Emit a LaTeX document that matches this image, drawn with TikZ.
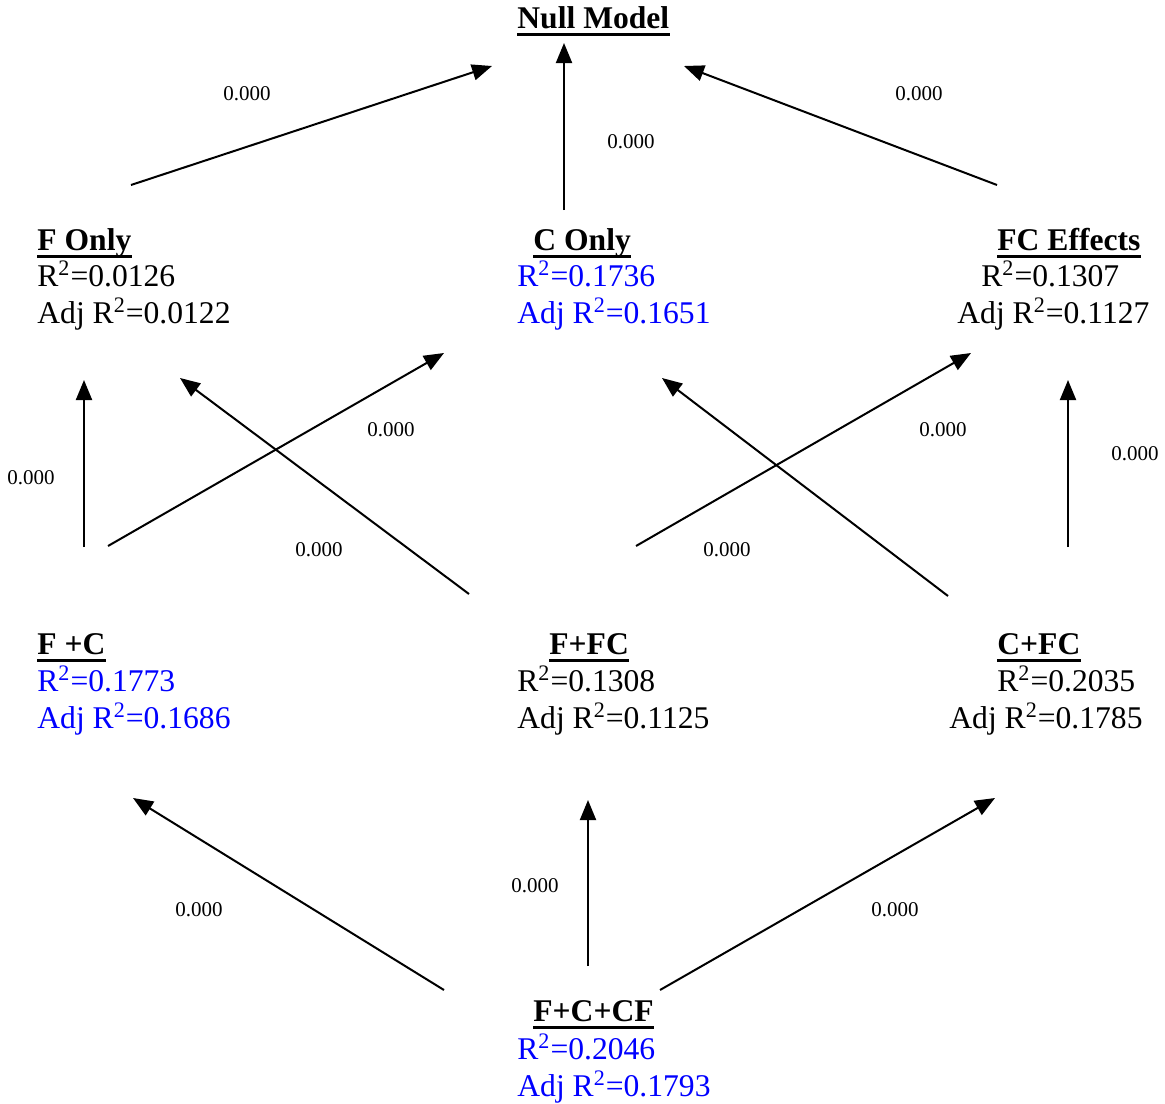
\documentclass[tikz,border=0pt]{standalone}
\usepackage{fontspec}
\setmainfont{Liberation Serif}
\usetikzlibrary{arrows.meta}
\newcommand{\rsq}[1]{R\textsuperscript{2}=#1}
\newcommand{\adjrsq}[1]{Adj R\textsuperscript{2}=#1}

\begin{document}
\begin{tikzpicture}[
    x=0.5pt, y=-0.5pt,
    txt/.style={anchor=base west, inner sep=0pt, font=\fontsize{15.8}{19}\selectfont},
    ttl/.style={txt, font=\fontsize{15.8}{19}\selectfont\bfseries},
    best/.style={text=blue},
    pval/.style={inner sep=0pt, font=\fontsize{10.5}{12}\selectfont},
    uline/.style={line width=1.7pt},
    arr/.style={line width=1pt, -{Triangle[length=10pt, width=8pt]}}]
  \useasboundingbox (0,0) rectangle (1165,1103);

  % top
  \node[ttl] (null) at (517,28) {Null Model};

  % one term
  \node[ttl] (fonly) at (37,250) {F Only};
  \node[txt] (fonly-r2) at (37,286) {\rsq{0.0126}};
  \node[txt] (fonly-adj) at (37,323) {\adjrsq{0.0122}};

  \node[ttl] (conly) at (533,250) {C Only};
  \node[txt, best] (conly-r2) at (517,286) {\rsq{0.1736}};
  \node[txt, best] (conly-adj) at (517,323) {\adjrsq{0.1651}};

  \node[ttl] (fceff) at (997,250) {FC Effects};
  \node[txt] (fceff-r2) at (981,286) {\rsq{0.1307}};
  \node[txt] (fceff-adj) at (957,323) {\adjrsq{0.1127}};

  % two terms
  \node[ttl] (fpc) at (37,654) {F +C};
  \node[txt, best] (fpc-r2) at (37,691) {\rsq{0.1773}};
  \node[txt, best] (fpc-adj) at (37,728) {\adjrsq{0.1686}};

  \node[ttl] (fpfc) at (549,654) {F+FC};
  \node[txt] (fpfc-r2) at (517,691) {\rsq{0.1308}};
  \node[txt] (fpfc-adj) at (517,728) {\adjrsq{0.1125}};

  \node[ttl] (cpfc) at (997,654) {C+FC};
  \node[txt] (cpfc-r2) at (997,691) {\rsq{0.2035}};
  \node[txt] (cpfc-adj) at (949,728) {\adjrsq{0.1785}};

  % full model
  \node[ttl] (full) at (533,1021) {F+C+CF};
  \node[txt, best] (full-r2) at (517,1059) {\rsq{0.2046}};
  \node[txt, best] (full-adj) at (517,1096) {\adjrsq{0.1793}};

  \foreach \n in {null,fonly,conly,fceff,fpc,fpfc,cpfc,full}
    \draw[uline] ([yshift=-3.2pt]\n.base west) -- ([yshift=-3.2pt]\n.base east);

  % arrow ends
  \coordinate (fonly-top) at (131,185);   \coordinate (null-l) at (492,66);
  \coordinate (conly-top) at (564,210);   \coordinate (null-m) at (564,43);
  \coordinate (fceff-top) at (997,185);   \coordinate (null-r) at (684,66);
  \coordinate (fpc-top1) at (84,547);     \coordinate (fonly-bot1) at (84,380);
  \coordinate (fpc-top2) at (108,546);    \coordinate (conly-bot1) at (444,353);
  \coordinate (fpfc-top1) at (469,594);   \coordinate (fonly-bot2) at (180,378);
  \coordinate (fpfc-top2) at (636,546);   \coordinate (fceff-bot1) at (971,353);
  \coordinate (cpfc-top1) at (948,596);   \coordinate (conly-bot2) at (662,378);
  \coordinate (cpfc-top2) at (1068,547);  \coordinate (fceff-bot2) at (1068,380);
  \coordinate (full-top1) at (444,990);   \coordinate (fpc-bot) at (133,798);
  \coordinate (full-top2) at (588,966);   \coordinate (fpfc-bot) at (588,800);
  \coordinate (full-top3) at (660,990);   \coordinate (cpfc-bot) at (995,798);

  \draw[arr] (fonly-top) -- (null-l);
  \draw[arr] (conly-top) -- (null-m);
  \draw[arr] (fceff-top) -- (null-r);
  \draw[arr] (fpc-top1) -- (fonly-bot1);
  \draw[arr] (fpc-top2) -- (conly-bot1);
  \draw[arr] (fpfc-top1) -- (fonly-bot2);
  \draw[arr] (fpfc-top2) -- (fceff-bot1);
  \draw[arr] (cpfc-top1) -- (conly-bot2);
  \draw[arr] (cpfc-top2) -- (fceff-bot2);
  \draw[arr] (full-top1) -- (fpc-bot);
  \draw[arr] (full-top2) -- (fpfc-bot);
  \draw[arr] (full-top3) -- (cpfc-bot);

  % p-values
  \node[pval] (p1) at (247,94) {0.000};
  \node[pval] (p2) at (631,142) {0.000};
  \node[pval] (p3) at (919,94) {0.000};
  \node[pval] (p4) at (31,478) {0.000};
  \node[pval] (p5) at (391,430) {0.000};
  \node[pval] (p6) at (319,550) {0.000};
  \node[pval] (p7) at (943,430) {0.000};
  \node[pval] (p8) at (727,550) {0.000};
  \node[pval] (p9) at (1135,454) {0.000};
  \node[pval] (p10) at (199,910) {0.000};
  \node[pval] (p11) at (535,886) {0.000};
  \node[pval] (p12) at (895,910) {0.000};
\end{tikzpicture}
\end{document}
